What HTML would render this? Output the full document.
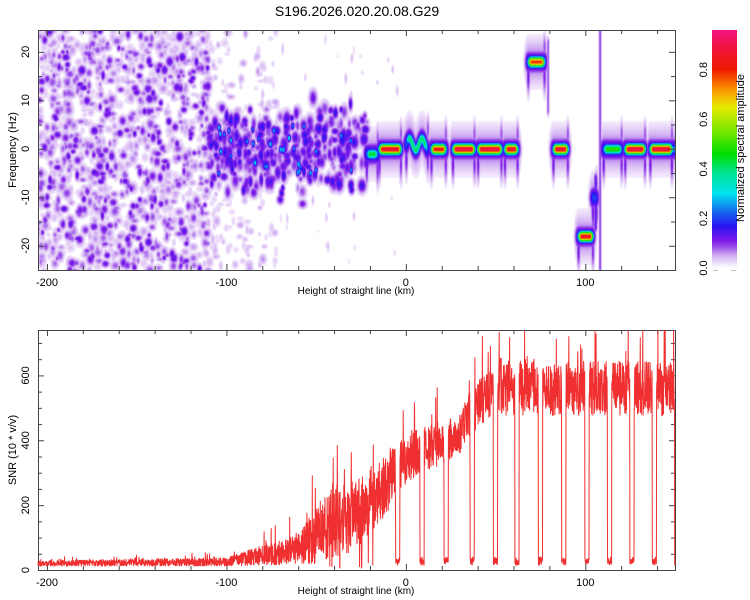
<!DOCTYPE html>
<html><head><meta charset="utf-8">
<style>
html,body{margin:0;padding:0;background:#fff;}
#root{position:relative;width:750px;height:600px;overflow:hidden;font-family:"Liberation Sans",sans-serif;}
canvas{position:absolute;left:38px;top:30px;}
svg{position:absolute;left:0;top:0;}
</style></head>
<body>
<div id="root">
<canvas id="heat" width="637" height="240"></canvas>
<svg id="svg" width="750" height="600"></svg>
</div>
<script>
// ---- data arrays ----
const xDomain = [-205, 150];
const fDomain = [-25, 24.5];
const snrDomain = [0, 740];
const xTicks = [-200, -100, 0, 100];
const fTicks = [-20, -10, 0, 10, 20];
const snrTicks = [0, 200, 400, 600];
const cbTicks = [0.0, 0.2, 0.4, 0.6, 0.8];
// ridge segments (km start/end, frequency Hz, peak amplitude)
const segStart = [-22, -15, 0, 14, 26, 40, 55, 68, 82, 96, 104, 110, 122, 136, 148];
const segEnd   = [-16, -3, 12, 22, 38, 53, 62, 77, 90, 104, 106, 120, 133, 148, 151];
const segFreq  = [-1, 0, 1, 0, 0, 0, 0, 18, 0, -18, -10, 0, 0, 0, 0];
const segAmp   = [0.45, 0.9, 0.42, 0.85, 0.92, 0.92, 0.9, 0.8, 0.9, 0.88, 0.3, 0.5, 0.92, 0.92, 0.3];
// SNR envelope
const snrKm     = [-205, -100, -90, -80, -70, -60, -50, -40, -30, -20, -10, 0, 10, 20, 30, 40, 50, 60, 150];
const snrMean   = [20, 25, 35, 45, 50, 70, 110, 150, 160, 210, 270, 340, 370, 390, 420, 520, 560, 560, 560];
const snrSpread = [12, 18, 30, 45, 50, 70, 130, 160, 160, 150, 130, 110, 100, 90, 90, 110, 120, 120, 120];
const dipKm = [-32, -18, -4.5, 9, 22.5, 37, 50, 62, 75, 88, 101, 113.5, 126, 138.5, 151];

// ---- scales ----
const P1 = {l:38, r:675, t:30, b:270};
const P2 = {l:38, r:675, t:330, b:570};
const X = km => P1.l + (km - xDomain[0]) / (xDomain[1] - xDomain[0]) * (P1.r - P1.l);
const YF = f => P1.t + (fDomain[1] - f) / (fDomain[1] - fDomain[0]) * (P1.b - P1.t);
const YS = v => P2.t + (snrDomain[1] - v) / (snrDomain[1] - snrDomain[0]) * (P2.b - P2.t);
const CB = {l:712, r:737, t:30, b:268, max:0.96};
const YC = a => CB.b - a / CB.max * (CB.b - CB.t);

function rng(seed){return function(){seed|=0;seed=seed+0x6D2B79F5|0;let t=Math.imul(seed^seed>>>15,1|seed);t=t+Math.imul(t^t>>>7,61|t)^t;return((t^t>>>14)>>>0)/4294967296;}}

const stops = [
 [0,255,255,255],[0.02,238,224,250],[0.05,210,175,242],[0.08,160,90,235],[0.11,125,25,232],
 [0.17,40,20,242],[0.23,20,110,240],[0.3,0,228,240],[0.38,0,228,150],[0.46,0,222,0],
 [0.55,120,230,0],[0.65,232,232,0],[0.72,250,150,0],[0.8,240,25,0],[0.87,240,20,45],[0.96,240,20,130]];
function cmap(v){
  if(v<=0) return [255,255,255];
  if(v>=stops[stops.length-1][0]) return stops[stops.length-1].slice(1);
  for(let i=1;i<stops.length;i++){ if(v<=stops[i][0]){const a=stops[i-1],b=stops[i];const t=(v-a[0])/(b[0]-a[0]);return [a[1]+(b[1]-a[1])*t,a[2]+(b[2]-a[2])*t,a[3]+(b[3]-a[3])*t];}}
}

// ---- heatmap ----
const W=637,H=240;
const field=new Float32Array(W*H);
function blob(km,f,amp,sxKm,sfHz,mode){
  const cx=X(km)-P1.l, cy=YF(f)-P1.t;
  const sx=sxKm*W/(xDomain[1]-xDomain[0]), sy=sfHz*H/(fDomain[1]-fDomain[0]);
  const x0=Math.max(0,Math.floor(cx-3*sx)),x1=Math.min(W-1,Math.ceil(cx+3*sx));
  const y0=Math.max(0,Math.floor(cy-3*sy)),y1=Math.min(H-1,Math.ceil(cy+3*sy));
  for(let y=y0;y<=y1;y++)for(let x=x0;x<=x1;x++){
    const dx=(x-cx)/sx,dy=(y-cy)/sy;const v=amp*Math.exp(-0.5*(dx*dx+dy*dy));
    if(mode==='max'){if(v>field[y*W+x])field[y*W+x]=v;} else field[y*W+x]+=v;}
}
const R=rng(12345);
// background noise
for(let i=0;i<1050;i++){const km=-205+R()*95;blob(km,-25+R()*50,0.03+0.07*Math.pow(R(),1.4),0.8+R()*1.1,0.35+R()*0.5,'max');}
for(let i=0;i<210;i++){const km=-205+R()*95;blob(km,-25+R()*50,0.1+0.05*R(),0.8+R()*0.9,0.4+R()*0.4,'max');}
for(let i=0;i<200;i++){const km=-112+R()*40;blob(km,-25+R()*50,0.025+0.04*Math.pow(R(),2),0.7+R()*1,0.3+R()*0.5,'max');}
for(let i=0;i<60;i++){const km=-75+R()*70;blob(km,-25+R()*50,0.02+0.025*R(),0.6,0.4+R()*0.5,'max');}
// scattered mid region
for(let i=0;i<420;i++){const km=-110+R()*88;const u=R()+R()+R()-1.5;blob(km,u*8,0.07+0.11*Math.pow(R(),1.3),0.8+R()*1.0,0.5+R()*0.7,'max');}
for(let i=0;i<35;i++){const km=-108+R()*82;blob(km,(R()-0.5)*10,0.22+0.12*R(),0.7,0.55,'max');}
// ridge segments
const step=0.4;
for(let s=0;s<segStart.length;s++){
  for(let km=segStart[s];km<=segEnd[s];km+=step){
    const edge=Math.min(1,(km-segStart[s]+0.5)/2,(segEnd[s]-km+0.5)/2);
    let f=segFreq[s]; if(s===2) f+=1.2*Math.sin(km*0.9);
    blob(km,f,segAmp[s]*edge,1.0,0.75,'max');
    blob(km,f,0.2,1.3,1.5,'max');
    blob(km,f,0.08,1.5,3,'max');
  }
  blob(segStart[s],segFreq[s]-3,0.12,0.7,2.5,'max');
  blob(segEnd[s],segFreq[s]-3,0.11,0.7,2.5,'max');
  blob(segEnd[s],segFreq[s]+3,0.09,0.7,2,'max');
}
// vertical streak near 108 km and tails
for(let f=-25;f<=25;f+=0.5) blob(108,f,0.1,0.5,0.8,'max');
for(let f=8;f<=22;f+=0.5) blob(79,f,0.09,0.5,0.8,'max');
for(let f=-16;f<=-6;f+=0.5) blob(105.5,f,0.14,0.6,0.8,'max');
const ctx=document.getElementById('heat').getContext('2d');
const img=ctx.createImageData(W,H);
for(let i=0;i<W*H;i++){const v=Math.min(0.96,field[i]);const c=cmap(v<0.012?0:v);img.data[i*4]=c[0];img.data[i*4+1]=c[1];img.data[i*4+2]=c[2];img.data[i*4+3]=255;}
ctx.putImageData(img,0,0);

// ---- SVG ----
const NS='http://www.w3.org/2000/svg';
const svg=document.getElementById('svg');
function el(tag,attrs,parent){const e=document.createElementNS(NS,tag);for(const k in attrs)e.setAttribute(k,attrs[k]);(parent||svg).appendChild(e);return e;}
function txt(s,x,y,size,rot,anchor,name){const t=el('text',{x:x,y:y,'font-size':size,'text-anchor':anchor||'middle','font-family':'Liberation Sans, sans-serif',fill:'#000'});if(rot)t.setAttribute('transform','rotate('+rot+' '+x+' '+y+')');t.textContent=s;


return t;}

txt('S196.2026.020.20.08.G29',357,16,14,0,'middle','chart-title');

function frame(P,name){
  const g=el('g',{});
  
  
  el('rect',{x:P.l+0.5,y:P.t+0.5,width:P.r-P.l,height:P.b-P.t,fill:'none',stroke:'#444','stroke-width':1},g);
  for(let km=-200;km<=150;km+=20){const x=X(km)+0.5;const L=(km%100===0)?6:4;
    el('line',{x1:x,y1:P.b,x2:x,y2:P.b-L,stroke:'#444'},g);el('line',{x1:x,y1:P.t,x2:x,y2:P.t+L,stroke:'#444'},g);}
  return g;
}
const g1=frame(P1,'spectrogram-frame');
for(let f=-25;f<=24.5;f+=5){const y=YF(f)+0.5;const L=(f%10===0)?6:4;el('line',{x1:P1.l,y1:y,x2:P1.l+L,y2:y,stroke:'#444'},g1);el('line',{x1:P1.r,y1:y,x2:P1.r-L,y2:y,stroke:'#444'},g1);}
xTicks.forEach(v=>txt(String(v),X(v),286,11,0,'middle','x-tick-label-top'));
fTicks.forEach(v=>txt(String(v),29,YF(v),11,-90,'middle','y-tick-label-freq'));
txt('Height of straight line (km)',356,294,10,0,'middle','x-axis-title-top');
txt('Frequency (Hz)',16,150,11,-90,'middle','y-axis-title-freq');

// colorbar
const defs=el('defs',{});const lg=el('linearGradient',{id:'cbg',x1:0,y1:1,x2:0,y2:0},defs);
stops.forEach(s=>el('stop',{offset:(s[0]/CB.max*100)+'%','stop-color':'rgb('+s[1]+','+s[2]+','+s[3]+')'},lg));
const cb=el('rect',{x:CB.l,y:CB.t,width:CB.r-CB.l,height:CB.b-CB.t,fill:'url(#cbg)'});


cbTicks.forEach(v=>txt(v.toFixed(1),707,YC(v),11,-90,'middle','colorbar-tick-label'));
el('line',{x1:713,y1:270.5,x2:718,y2:270.5,stroke:'#bbb'});el('line',{x1:731,y1:270.5,x2:736,y2:270.5,stroke:'#bbb'});
txt('Normalized spectral amplitude',744,148,11,-90,'middle','colorbar-title');

// bottom plot
const g2=frame(P2,'snr-frame');
for(let v=0;v<=740;v+=50){const y=YS(v)+0.5;const L=(v%200===0)?6:4;el('line',{x1:P2.l,y1:y,x2:P2.l+L,y2:y,stroke:'#444'},g2);el('line',{x1:P2.r,y1:y,x2:P2.r-L,y2:y,stroke:'#444'},g2);}
xTicks.forEach(v=>txt(String(v),X(v),586,11,0,'middle','x-tick-label-bottom'));
snrTicks.forEach(v=>txt(String(v),29,YS(v),11,-90,'middle','y-tick-label-snr'));
txt('Height of straight line (km)',356,594,10,0,'middle','x-axis-title-bottom');
txt('SNR (10 * v/v)',16,450,11,-90,'middle','y-axis-title-snr');

function interp(xs,ys,x){if(x<=xs[0])return ys[0];for(let i=1;i<xs.length;i++)if(x<=xs[i]){const t=(x-xs[i-1])/(xs[i]-xs[i-1]);return ys[i-1]+(ys[i]-ys[i-1])*t;}return ys[ys.length-1];}
const R2=rng(777);
let pts=[];
for(let km=xDomain[0];km<=xDomain[1];km+=0.12){
  const m=interp(snrKm,snrMean,km),s=interp(snrKm,snrSpread,km);
  let v=m+s*(R2()-0.5)*1.4;
  if(R2()<0.06) v+=s*R2()*1.3;
  if(km>-60 && km<-5 && R2()<0.025) v=5+R2()*20;
  let dip=false;for(const d of dipKm){if(Math.abs(km-d)<1.2 && km>-10){dip=true;}}
  if(dip) v=15+R2()*25;
  v=Math.max(2,Math.min(738,v));
  pts.push(X(km).toFixed(1)+','+YS(v).toFixed(1));
}
const line=el('polyline',{points:pts.join(' '),fill:'none',stroke:'#f03030','stroke-width':1,'stroke-linejoin':'round'});


</script>
</body></html>
